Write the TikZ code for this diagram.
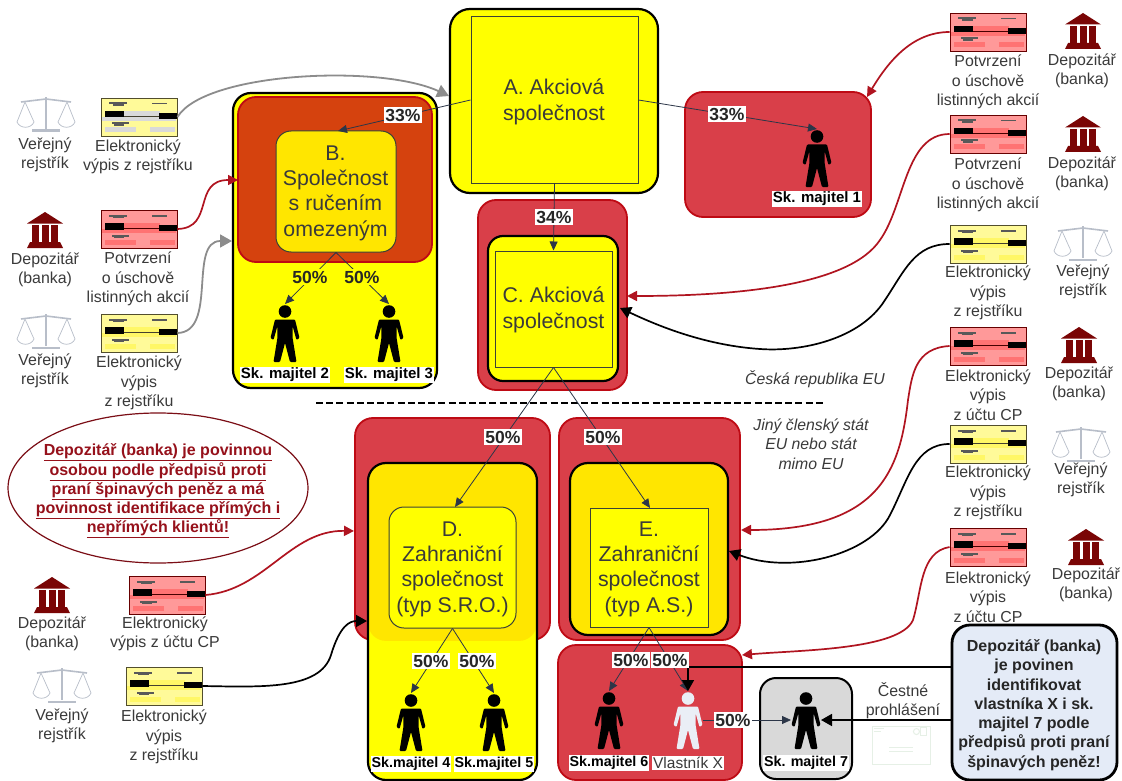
\documentclass[tikz,border=0pt]{standalone}
\usepackage{fontspec}
\setmainfont{Liberation Sans}
\usetikzlibrary{arrows.meta,calc,shapes.geometric}
\definecolor{grpred}{HTML}{D93F49}
\definecolor{grpborder}{HTML}{BE0A14}
\definecolor{bred}{HTML}{D5420E}
\definecolor{yel}{HTML}{FFFF00}
\definecolor{dyel}{HTML}{FFE600}
\definecolor{thinline}{HTML}{3C4236}
\definecolor{owner}{HTML}{2C3648}
\definecolor{txt}{HTML}{3A3A3A}
\definecolor{dred}{HTML}{B01420}
\definecolor{bankc}{HTML}{7A0505}
\definecolor{scalec}{HTML}{B8BEC9}
\definecolor{envc}{HTML}{E6F0E6}
\definecolor{grayarrow}{HTML}{8C8C8C}
\definecolor{notefill}{HTML}{E4EBF7}
\definecolor{xfill}{HTML}{EAEEF6}
\tikzset{
  x=1pt,y=-1pt,
  grpbox/.style={draw=grpborder,line width=1.8pt,fill=grpred,rounded corners=18pt,inner sep=0pt},
  outerbox/.style={draw=black,line width=2.2pt,fill=yel,rounded corners=18pt,inner sep=0pt},
  softbox/.style={draw=thinline,line width=1pt,fill=dyel,rounded corners=15pt,inner sep=0pt},
  rectbox/.style={draw=thinline,line width=1pt,fill=yel,inner sep=0pt},
  lab/.style={align=center,text=txt,font=\fontsize{15.9}{19.3}\selectfont,inner sep=0pt,yshift=-2pt},
  ital/.style={align=center,text=txt,font=\fontsize{15.8}{19.3}\selectfont\itshape,inner sep=0pt},
  big/.style={align=center,text=txt,font=\fontsize{21.3}{25.3}\selectfont,inner sep=0pt,yshift=-2.5pt},
  pct/.style={fill=white,text=black!85,font=\fontsize{17.5}{20}\selectfont\bfseries,inner sep=1.5pt},
  own/.style={font=\fontsize{15}{18}\selectfont\bfseries,fill=white,text=black,inner sep=1pt},
  ownsmall/.style={own,font=\fontsize{14.3}{18}\selectfont\bfseries},
  ownline/.style={draw=owner,line width=.8pt,-{Triangle[length=9pt,width=8pt]}},
  redarrow/.style={draw=dred,line width=1.7pt,-{Triangle[length=10pt,width=10pt]}},
  blkarrow/.style={draw=black,line width=1.7pt,-{Triangle[length=11pt,width=12pt]}},
  grayar/.style={draw=grayarrow,line width=1.8pt,-{Triangle[length=12pt,width=13pt]}},
  docbox/.style={draw=#1,line width=.9pt,minimum width=76pt,minimum height=38pt,inner sep=0pt},
}
% #1 name, #2 x, #3 top y, #4 fill colour
\newcommand{\personfig}[4]{%
  \coordinate (#1) at (#2,#3-1);
  \begin{scope}[shift={(#2,#3)}]
    \coordinate (#1-l) at (-15,28);
    \coordinate (#1-r) at (15,28);
    \fill[#4] (0,6.5) circle (6.3pt);
    \fill[#4,rounded corners=1pt] (-10,14.5) -- (10,14.5) -- (14.5,33) -- (11.5,35) -- (7.7,21.5) -- (7.6,33) -- (11.5,57) -- (5,57) -- (0,38) -- (-5,57) -- (-11.5,57) -- (-7.6,33) -- (-7.7,21.5) -- (-11.5,35) -- (-14.5,33) -- cycle;
  \end{scope}}
% #1 name, #2 x, #3 top y
\newcommand{\bankfig}[3]{%
  \coordinate (#1) at (#2,#3);
  \begin{scope}[shift={(#2,#3)}]
    \fill[bankc] (-18,11.5) -- (0,0) -- (18,11.5) -- cycle;
    \fill[bankc] (-13,13) rectangle (-6,30);
    \fill[bankc] (-3.5,13) rectangle (3.5,30);
    \fill[bankc] (6,13) rectangle (13,30);
    \fill[bankc] (-15,30) -- (15,30) -- (18,36) -- (-18,36) -- cycle;
  \end{scope}}
\newcommand{\scalefig}[3]{%
  \coordinate (#1) at (#2,#3);
  \begin{scope}[shift={(#2,#3)}]
    \draw[scalec,line width=1.6pt] (-25,5) -- (0,2) -- (25,5);
    \fill[scalec] (-1.3,0) rectangle (1.3,32);
    \fill[scalec] (-14,32.5) rectangle (14,35);
    \draw[scalec,line width=.7pt] (-29,25) -- (-21,5) -- (-12,25) .. controls (-15,32) and (-26,32) .. (-29,25) -- cycle;
    \draw[scalec,line width=.7pt] (29,25) -- (21,5) -- (12,25) .. controls (15,32) and (26,32) .. (29,25) -- cycle;
  \end{scope}}
% #1 name, #2 x, #3 y, #4 fill, #5 band, #6 border
\newcommand{\docfig}[6]{%
  \node[docbox=#6,fill=#4] (#1) at (#2,#3) {};
  \begin{scope}[shift={(#2,#3)}]
    \fill[#5] (-16,-6) rectangle (21,-1);
    \fill[#5] (-37,0) rectangle (37,4);
    \fill[#5] (-34,10.5) rectangle (-3,15.5);
    \fill[#5] (11,10.5) rectangle (36,15.5);
    \draw[#6!70!black,line width=.6pt] (-15,-1) -- (20,-1);
    \fill[black!65] (-30,-14.5) rectangle (-12,-12.5);
    \fill[black!65] (-26,-12.5) rectangle (-15,-11);
    \fill[black!65] (13,-14) rectangle (28,-12.5);
    \fill[black!65] (-27,5.5) rectangle (-10,7.5);
    \fill[black!65] (-25,7.5) rectangle (-15,9);
    \fill[black] (-34,-6) rectangle (-15.5,0.5);
    \fill[black] (19.5,-4) rectangle (38,2);
  \end{scope}}
\begin{document}
\begin{tikzpicture}
\useasboundingbox (0,0) rectangle (1122,781);
\fill[white] (0,0) rectangle (1122,781);

% ---------- boxes
\node[outerbox,minimum width=204pt,minimum height=295pt] (bouter) at (335,240.5) {};
\node[grpbox,fill=bred,minimum width=194pt,minimum height=165pt] (bred) at (335,179.5) {};
\node[softbox,minimum width=120pt,minimum height=121pt] (binner) at (336,191.5) {};
\node[big] (btxt) at (335.5,190.5) {B.\\Společnost\\s ručením\\omezeným};

\node[grpbox,minimum width=186pt,minimum height=125pt] (p1box) at (778,154.5) {};

\node[grpbox,minimum width=149pt,minimum height=190pt] (cred) at (552.5,295) {};
\node[outerbox,rounded corners=15pt,minimum width=130pt,minimum height=145pt] (cyel) at (553,308.5) {};
\node[rectbox,minimum width=117pt,minimum height=116pt] (crect) at (553.5,309) {};
\node[big] (ctxt) at (553.5,307.5) {C. Akciová\\společnost};

\node[outerbox,rounded corners=20pt,minimum width=208pt,minimum height=184pt] (aouter) at (554,101) {};
\node[rectbox,minimum width=167pt,minimum height=166pt] (arect) at (554.5,100) {};
\node[big] (atxt) at (554,99.5) {A. Akciová\\společnost};

\node[grpbox,minimum width=195pt,minimum height=222pt] (dred) at (452.5,529) {};
\node[outerbox,minimum width=169pt,minimum height=317pt,
  path picture={\fill[dyel] (dred.south -| path picture bounding box.west) rectangle (path picture bounding box.north east);}] (dyelb) at (452.5,621.5) {};
\node[softbox,fill=yel,minimum width=127pt,minimum height=121pt] (dinner) at (452.5,567.5) {};
\node[big] (dtxt) at (452.5,566.5) {D.\\Zahraniční\\společnost\\(typ S.R.O.)};

\node[grpbox,minimum width=181pt,minimum height=222pt] (ered) at (649.5,529) {};
\node[outerbox,fill=dyel,minimum width=158pt,minimum height=172pt] (eyel) at (649,549) {};
\node[rectbox,minimum width=118pt,minimum height=119pt] (erect) at (649,567.5) {};
\node[big] (etxt) at (649,566.5) {E.\\Zahraniční\\společnost\\(typ A.S.)};

\node[grpbox,minimum width=184pt,minimum height=135pt] (fbox) at (650,712.5) {};
\node[draw=black,line width=2pt,fill=black!15,rounded corners=16pt,inner sep=0pt,minimum width=92pt,minimum height=101pt] (gbox) at (806,728.5) {};

% ---------- persons
\personfig{p1}{817}{130}{black}
\personfig{p2}{285}{305}{black}
\personfig{p3}{389}{305}{black}
\personfig{p4}{411}{694}{black}
\personfig{p5}{494}{694}{black}
\personfig{p6}{609}{692}{black}
\personfig{px}{688}{692}{xfill}
\personfig{p7}{806}{692}{black}

% ---------- icons
\scalefig{s1}{46}{97}
\bankfig{b1}{45}{212}
\scalefig{s2}{46}{314}
\bankfig{b2}{52}{577}
\scalefig{s3}{62}{668}
\bankfig{b3}{1083}{13}
\bankfig{b4}{1083}{116}
\scalefig{s4}{1083}{226}
\bankfig{b5}{1079}{327}
\scalefig{s5}{1081}{427}
\bankfig{b6}{1086}{529}

% ---------- documents
\docfig{d1}{139}{117}{yellow!40}{black!15}{black!55!olive}
\docfig{d2}{139}{229}{red!40}{red!55}{black!60!red}
\docfig{d3}{139}{333}{yellow!40}{yellow!60}{black!55!olive}
\docfig{d4}{167}{595}{red!40}{red!55}{black!60!red}
\docfig{d5}{164}{686}{yellow!40}{yellow!60}{black!55!olive}
\docfig{d6}{988}{32}{red!40}{red!55}{black!60!red}
\docfig{d7}{988}{134}{red!40}{red!55}{black!60!red}
\docfig{d8}{988}{244}{yellow!40}{yellow!60}{black!55!olive}
\docfig{d9}{988}{346}{red!40}{red!55}{black!60!red}
\docfig{d10}{988}{444}{yellow!40}{yellow!60}{black!55!olive}
\docfig{d11}{988}{547}{red!40}{red!55}{black!60!red}

% ---------- envelope
\node[draw=envc,line width=.9pt,fill=white,minimum width=58pt,minimum height=38pt,inner sep=0pt] (env) at (901,745) {};
\draw[envc,line width=1pt] ($(env.center)+(-12,2)$) -- ($(env.center)+(12,2)$);
\draw[envc,line width=1pt] ($(env.center)+(-12,6)$) -- ($(env.center)+(12,6)$);
\draw[envc,line width=1pt] ($(env.north west)+(2,3)$) -- ($(env.north west)+(12,3)$);
\draw[envc,line width=1pt] ($(env.north west)+(2,6)$) -- ($(env.north west)+(9,6)$);
\draw[envc,line width=1pt] ($(env.north east)+(-4,2)$) rectangle ($(env.north east)+(-10,10)$);
\draw[envc,line width=1pt] ($(env.north east)+(-14,6)$) circle (3pt);

% ---------- note shapes
\node[draw=dred!70!black,line width=1.2pt,fill=white,ellipse,minimum width=300pt,minimum height=150pt,inner sep=0pt] (ell) at (158,488) {};
\node[draw=black,line width=2.8pt,fill=notefill,rounded corners=18pt,minimum width=165pt,minimum height=155pt,inner sep=0pt] (note) at (1034.5,702.5) {};

% ---------- dashed line
\coordinate (dashL) at (316,403);
\coordinate (dashR) at (823,403);
\draw[black,line width=2.4pt,dash pattern=on 7pt off 3.2pt] (dashL) -- (dashR);

% ---------- ownership connectors
\coordinate (aLeft) at (arect.west |- 0,100);
\coordinate (bTop) at (338,131);
\coordinate (aRight) at (arect.east |- 0,100);
\coordinate (cBot) at (crect.south);
\coordinate (dTop) at (455,507);
\coordinate (eTop) at (650,508);
\draw[ownline] (aLeft) -- (bTop);
\draw[ownline] (aRight) -- (p1);
\draw[ownline] (arect.south) -- (crect.north);
\draw[ownline] (cBot) -- (dTop);
\draw[ownline] (cBot) -- (eTop);
\coordinate (bBot) at (binner.south);
\draw[ownline] (bBot) -- (p2);
\draw[ownline] (bBot) -- (p3);
\draw[ownline] (dinner.south) -- (p4);
\draw[ownline] (dinner.south) -- (p5);
\draw[ownline] (erect.south) -- (p6);
\draw[ownline] (erect.south) -- (px);
\draw[ownline] (px-r) -- (p7-l);

% ---------- document connectors
\coordinate (aIn) at (449,96);
\coordinate (bRedIn) at (238,180);
\coordinate (bOutIn) at (232,241);
\coordinate (dRedIn) at (354,531);
\coordinate (dYelIn) at (367,621);
\coordinate (p1In) at (867,97);
\coordinate (cRedIn) at (627,296);
\coordinate (cYelIn) at (620,308);
\coordinate (eRedIn) at (741,530);
\coordinate (eYelIn) at (729,551);
\coordinate (fIn) at (742,655);
\coordinate (n1) at (note.west |- 0,667);
\coordinate (n2) at (note.west |- 0,720);
\draw[grayar] (d1.east) .. controls (205,72) and (380,64) .. (aIn);
\draw[redarrow] (d2.east) .. controls (215,228) and (192,180) .. (bRedIn);
\draw[grayar] (d3.east) .. controls (218,332) and (188,241) .. (bOutIn);
\draw[redarrow] (d4.east) .. controls (265,590) and (290,530) .. (dRedIn);
\draw[blkarrow] (d5.east) .. controls (262,687) and (320,690) .. (331,655) .. controls (340,625) and (350,621) .. (dYelIn);
\draw[redarrow] (d6.west) .. controls (912,32) and (888,62) .. (p1In);
\draw[redarrow] (d7.west) .. controls (905,134) and (905,205) .. (880,240) .. controls (850,285) and (740,296) .. (cRedIn);
\draw[blkarrow] (d8.west) .. controls (915,244) and (905,270) .. (885,300) .. controls (860,340) and (800,352) .. (760,349) .. controls (700,345) and (650,322) .. (cYelIn);
\draw[redarrow] (d9.west) .. controls (915,348) and (912,375) .. (908,400) .. controls (900,470) and (880,530) .. (eRedIn);
\draw[blkarrow] (d10.west) .. controls (915,444) and (908,480) .. (890,515) .. controls (870,555) and (790,575) .. (eYelIn);
\draw[redarrow] (d11.west) .. controls (920,552) and (922,590) .. (913,620) .. controls (900,650) and (800,650) .. (fIn);
\draw[blkarrow] (n1) -| (px);
\draw[blkarrow] (n2) -- (p7-r);

% ---------- percentages
\node[pct] (l33a) at (403,115) {33\%};
\node[pct] (l33b) at (727,114) {33\%};
\node[pct] (l34) at (554,217) {34\%};
\node[pct,fill=yel] (l50a) at (310,277) {50\%};
\node[pct,fill=yel] (l50b) at (362,277) {50\%};
\node[pct] (l50c) at (503,437) {50\%};
\node[pct] (l50d) at (603,437) {50\%};
\node[pct] (l50e) at (431,661) {50\%};
\node[pct] (l50f) at (477,661) {50\%};
\node[pct] (l50g) at (631,660) {50\%};
\node[pct] (l50h) at (670,660) {50\%};
\node[pct] (l50i) at (733,720) {50\%};

% ---------- person labels
\node[own] (o1) at (817,199) {Sk. majitel 1};
\node[own] (o2) at (285,375) {Sk. majitel 2};
\node[own] (o3) at (389,375) {Sk. majitel 3};
\node[ownsmall] (o4) at (411,764) {Sk.majitel 4};
\node[ownsmall] (o5) at (494,764) {Sk.majitel 5};
\node[ownsmall] (o6) at (609,763) {Sk.majitel 6};
\node[own,font=\fontsize{15.5}{18}\selectfont,text=txt] (ox) at (688,763) {Vlastník X};
\node[ownsmall] (o7) at (806,763) {Sk. majitel 7};

% ---------- labels
\node[lab] (t1) at (138,155) {Elektronický\\výpis z rejstříku};
\node[lab] (t2) at (138,277) {Potvrzení\\o úschově\\listinných akcií};
\node[lab] (t3) at (139,381) {Elektronický\\výpis\\z rejstříku};
\node[lab] (t4) at (165,632) {Elektronický\\výpis z účtu CP};
\node[lab] (t5) at (164,735) {Elektronický\\výpis\\z rejstříku};
\node[lab] (t6) at (988,80) {Potvrzení\\o úschově\\listinných akcií};
\node[lab] (t7) at (988,183) {Potvrzení\\o úschově\\listinných akcií};
\node[lab] (t8) at (988,291) {Elektronický\\výpis\\z rejstříku};
\node[lab] (t9) at (988,393) {Elektronický\\výpis\\z účtu CP};
\node[lab] (t10) at (988,491) {Elektronický\\výpis\\z rejstříku};
\node[lab] (t11) at (988,595) {Elektronický\\výpis\\z účtu CP};
\node[lab] (v1) at (45,153) {Veřejný\\rejstřík};
\node[lab] (v2) at (45,268) {Depozitář\\(banka)};
\node[lab] (v3) at (45,369) {Veřejný\\rejstřík};
\node[lab] (v4) at (52,632) {Depozitář\\(banka)};
\node[lab] (v5) at (62,724) {Veřejný\\rejstřík};
\node[lab] (v6) at (1082,69) {Depozitář\\(banka)};
\node[lab] (v7) at (1082,172) {Depozitář\\(banka)};
\node[lab] (v8) at (1083,280) {Veřejný\\rejstřík};
\node[lab] (v9) at (1079,382) {Depozitář\\(banka)};
\node[lab] (v10) at (1081,478) {Veřejný\\rejstřík};
\node[lab] (v11) at (1086,583) {Depozitář\\(banka)};
\node[lab] (cest) at (903,699) {Čestné\\prohlášení};
\node[ital] (it1) at (815,379) {Česká republika EU};
\node[ital] (it2) at (811,444) {Jiný členský stát\\EU nebo stát\\mimo EU};
\node[align=center,text=dred!85!black,inner sep=0pt,yshift=-3pt,font=\fontsize{16}{19.3}\selectfont\bfseries] (ellt) at (158,488) {\underline{Depozitář (banka) je povinnou}\\\underline{osobou podle předpisů proti}\\\underline{praní špinavých peněz a má}\\\underline{povinnost identifikace přímých i}\\\underline{nepřímých klientů!}};
\node[align=center,text=black!85,inner sep=0pt,font=\fontsize{16}{19.3}\selectfont\bfseries] (notet) at (1034,705) {Depozitář (banka)\\je povinen\\identifikovat\\vlastníka X i sk.\\majitel 7 podle\\předpisů proti praní\\špinavých peněz!};
\end{tikzpicture}
\end{document}
